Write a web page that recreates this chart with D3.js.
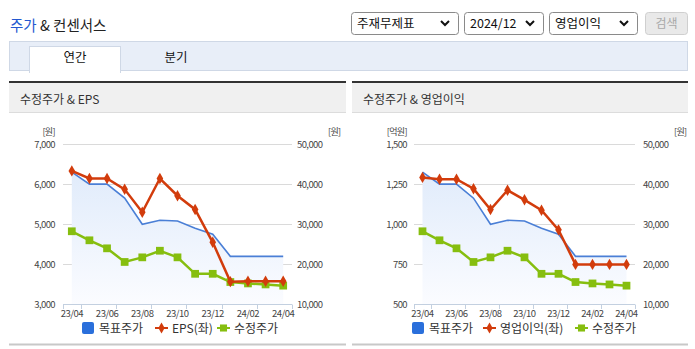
<!DOCTYPE html>
<html><head><meta charset="utf-8">
<script src="https://cdn.jsdelivr.net/npm/d3@7"></script>
<style>
body{margin:0;background:#fff;}
text{font-family:"Noto Sans CJK KR","Noto Sans",sans-serif;}
</style></head>
<body>
<script>
// ---- data ----
const months = ["23/04","23/05","23/06","23/07","23/08","23/09","23/10","23/11","23/12","24/01","24/02","24/03","24/04"];
const xTickLabels = ["23/04","23/06","23/08","23/10","23/12","24/02","24/04"];
const targetPrice = [43000,40000,40000,36500,30000,31000,30800,29000,27500,22000,22000,22000,22000];
const adjPrice = [28250,26000,24000,20600,21750,23400,21750,17650,17650,15600,15250,15000,14700];
const eps = [6330,6140,6140,5870,5300,6140,5710,5370,4550,3570,3580,3580,3580];
const opProfit = [1292,1281,1281,1221,1092,1212,1152,1087,965,750,750,750,750];
const epsTicks = [3000,4000,5000,6000,7000];
const opTicks = [500,750,1000,1250,1500];
const priceTicks = [10000,20000,30000,40000,50000];

const W=695,H=349;
const svg=d3.select("body").append("svg").attr("width",W).attr("height",H);
const defs=svg.append("defs");
const grad=defs.append("linearGradient").attr("id","areaGrad").attr("gradientUnits","userSpaceOnUse")
  .attr("x1",0).attr("y1",144).attr("x2",0).attr("y2",305);
grad.append("stop").attr("offset","0%").attr("stop-color","#dbe8fa");
grad.append("stop").attr("offset","100%").attr("stop-color","#fbfcff");

const BLUE="#4a7fd6",RED="#d23c0c",GREEN="#86be0f";
const fmt=d3.format(",");

// ---- header ----
const t=svg.append("text").attr("x",10).attr("y",31).attr("font-size",14.5);
t.append("tspan").attr("fill","#2458d0").text("주가");
t.append("tspan").attr("fill","#222").text(" & 컨센서스");

function selectBox(x0,x1,label){
  svg.append("rect").attr("x",x0+0.5).attr("y",12.5).attr("width",x1-x0).attr("height",22).attr("rx",3)
    .attr("fill","#fff").attr("stroke","#8a8a8a");
  svg.append("text").attr("x",x0+6).attr("y",28).attr("font-size",12.5).attr("fill","#111").text(label);
  const cx=x1-13;
  svg.append("path").attr("d",`M${cx-4},21 L${cx},25 L${cx+4},21`).attr("fill","none").attr("stroke","#111").attr("stroke-width",2);
}
selectBox(351,458,"주재무제표");
selectBox(464,543,"2024/12");
selectBox(549,637,"영업이익");
svg.append("rect").attr("x",645.5).attr("y",12.5).attr("width",42).attr("height",22).attr("rx",3)
  .attr("fill","#e9e9e9").attr("stroke","#cfcfcf");
svg.append("text").attr("x",666.5).attr("y",28).attr("text-anchor","middle").attr("font-size",12).attr("fill","#a8a8a8").text("검색");

// tabs
svg.append("rect").attr("x",9.5).attr("y",41.5).attr("width",678).attr("height",29).attr("fill","#e8eef8").attr("stroke","#cfd8e6");
svg.append("rect").attr("x",29.5).attr("y",46.5).attr("width",91).attr("height",26).attr("fill","#fff").attr("stroke","#cfd8e6");
svg.append("rect").attr("x",30).attr("y",70).attr("width",90).attr("height",3).attr("fill","#fff");
svg.append("text").attr("x",75).attr("y",62).attr("text-anchor","middle").attr("font-size",12.5).attr("fill","#111").text("연간");
svg.append("text").attr("x",176).attr("y",62).attr("text-anchor","middle").attr("font-size",12.5).attr("fill","#111").text("분기");

// ---- panel ----
function drawPanel(cfg){
  const {px0,px1,title,x0,x1,leftTicks,leftFmt,leftUnit,leftLabelX,rightLabelX,values,valName,legX} = cfg;
  // header
  svg.append("rect").attr("x",px0).attr("y",81).attr("width",px1-px0).attr("height",2).attr("fill","#333");
  svg.append("rect").attr("x",px0).attr("y",83).attr("width",px1-px0).attr("height",30).attr("fill","#f0f0f0");
  svg.append("rect").attr("x",px0).attr("y",112).attr("width",px1-px0).attr("height",1).attr("fill","#dcdcdc");
  svg.append("text").attr("x",px0+11).attr("y",103.5).attr("font-size",12).attr("fill","#333").text(title);
  svg.append("rect").attr("x",px0).attr("y",343.5).attr("width",px1-px0).attr("height",2).attr("fill","#c8c8c8");

  const x=d3.scaleBand().domain(months).range([x0,x1]);
  const yL=d3.scaleLinear().domain([leftTicks[0],leftTicks[leftTicks.length-1]]).range([304.5,144]);
  const yR=d3.scaleLinear().domain([priceTicks[0],priceTicks[priceTicks.length-1]]).range([304.5,144]);
  const cx=d=>x(d)+x.bandwidth()/2;

  // grid
  svg.append("g").selectAll("line").data(leftTicks.slice(1)).join("line")
    .attr("x1",x0).attr("x2",x1).attr("y1",d=>Math.round(yL(d))+0.5).attr("y2",d=>Math.round(yL(d))+0.5)
    .attr("stroke","#dadada");
  // left labels
  svg.append("g").selectAll("text").data(leftTicks).join("text")
    .attr("x",leftLabelX).attr("y",d=>yL(d)+3.5).attr("text-anchor","end").attr("font-size",9.5)
    .attr("letter-spacing",-0.6).attr("fill","#444").text(leftFmt);
  svg.append("g").selectAll("text").data(priceTicks).join("text")
    .attr("x",rightLabelX).attr("y",d=>yR(d)+3.5).attr("font-size",9.5)
    .attr("letter-spacing",-0.6).attr("fill","#444").text(fmt);
  svg.append("text").attr("x",leftLabelX).attr("y",135).attr("text-anchor","end").attr("font-size",9).attr("letter-spacing",-0.6).attr("fill","#444").text(leftUnit);
  svg.append("text").attr("x",rightLabelX+31).attr("y",135).attr("font-size",9).attr("letter-spacing",-0.6).attr("fill","#444").text("[원]");

  // area + target price line
  const area=d3.area().x((d,i)=>cx(months[i])).y0(304).y1(d=>yR(d));
  svg.append("path").datum(targetPrice).attr("d",area).attr("fill","url(#areaGrad)");
  const lineR=d3.line().x((d,i)=>cx(months[i])).y(d=>yR(d));
  const lineL=d3.line().x((d,i)=>cx(months[i])).y(d=>yL(d));
  svg.append("path").datum(targetPrice).attr("d",lineR).attr("fill","none").attr("stroke",BLUE).attr("stroke-width",1.6);

  // x axis
  svg.append("line").attr("x1",x0).attr("x2",x1).attr("y1",304.5).attr("y2",304.5).attr("stroke","#c3d0e0");
  const tickIdx=[0,1,3,5,7,9,11,13];
  svg.append("g").selectAll("line").data(tickIdx).join("line")
    .attr("x1",i=>Math.round(x0+i*x.step())+0.5).attr("x2",i=>Math.round(x0+i*x.step())+0.5)
    .attr("y1",304.5).attr("y2",309).attr("stroke","#c3d0e0");
  svg.append("g").selectAll("text").data(xTickLabels).join("text")
    .attr("x",d=>cx(d)).attr("y",316.5).attr("text-anchor","middle").attr("font-size",9.5)
    .attr("letter-spacing",-0.5).attr("fill","#444").text(d=>d);

  // adjusted price
  svg.append("path").datum(adjPrice).attr("d",lineR).attr("fill","none").attr("stroke",GREEN).attr("stroke-width",2.5);
  svg.append("g").selectAll("path").data(adjPrice).join("path")
    .attr("transform",(d,i)=>`translate(${cx(months[i])},${yR(d)})`)
    .attr("d",d3.symbol(d3.symbolSquare,60)).attr("fill",GREEN);

  // left-axis series
  svg.append("path").datum(values).attr("d",lineL).attr("fill","none").attr("stroke",RED).attr("stroke-width",2.5);
  svg.append("g").selectAll("path").data(values).join("path")
    .attr("transform",(d,i)=>`translate(${cx(months[i])},${yL(d)})`)
    .attr("d",d3.symbol(d3.symbolDiamond,38)).attr("fill",RED);

  // legend
  const ly=328;
  let lx=legX;
  svg.append("rect").attr("x",lx).attr("y",ly-6).attr("width",12).attr("height",12).attr("rx",2).attr("fill","#2a6fdb");
  svg.append("text").attr("x",lx+17).attr("y",ly+4.5).attr("font-size",12).attr("fill","#333").text("목표주가");
  lx=cfg.leg2X;
  svg.append("line").attr("x1",lx).attr("x2",lx+13).attr("y1",ly).attr("y2",ly).attr("stroke",RED).attr("stroke-width",2);
  svg.append("path").attr("transform",`translate(${lx+6.5},${ly})`).attr("d",d3.symbol(d3.symbolDiamond,34)).attr("fill",RED);
  svg.append("text").attr("x",lx+17).attr("y",ly+4.5).attr("font-size",12).attr("fill","#333").text(valName);
  lx=cfg.leg3X;
  svg.append("line").attr("x1",lx).attr("x2",lx+13).attr("y1",ly).attr("y2",ly).attr("stroke",GREEN).attr("stroke-width",2);
  svg.append("path").attr("transform",`translate(${lx+6.5},${ly})`).attr("d",d3.symbol(d3.symbolSquare,50)).attr("fill",GREEN);
  svg.append("text").attr("x",lx+17).attr("y",ly+4.5).attr("font-size",12).attr("fill","#333").text("수정주가");
}

drawPanel({px0:9,px1:346,title:"수정주가 & EPS",x0:63,x1:292,leftTicks:epsTicks,leftFmt:fmt,leftUnit:"[원]",
  leftLabelX:55,rightLabelX:297,values:eps,valName:"EPS(좌)",legX:82,leg2X:155,leg3X:217});
drawPanel({px0:352,px1:688,title:"수정주가 & 영업이익",x0:414,x1:635,leftTicks:opTicks,leftFmt:fmt,leftUnit:"[억원]",
  leftLabelX:407,rightLabelX:643,values:opProfit,valName:"영업이익(좌)",legX:412,leg2X:483,leg3X:575});
</script>
</body></html>
